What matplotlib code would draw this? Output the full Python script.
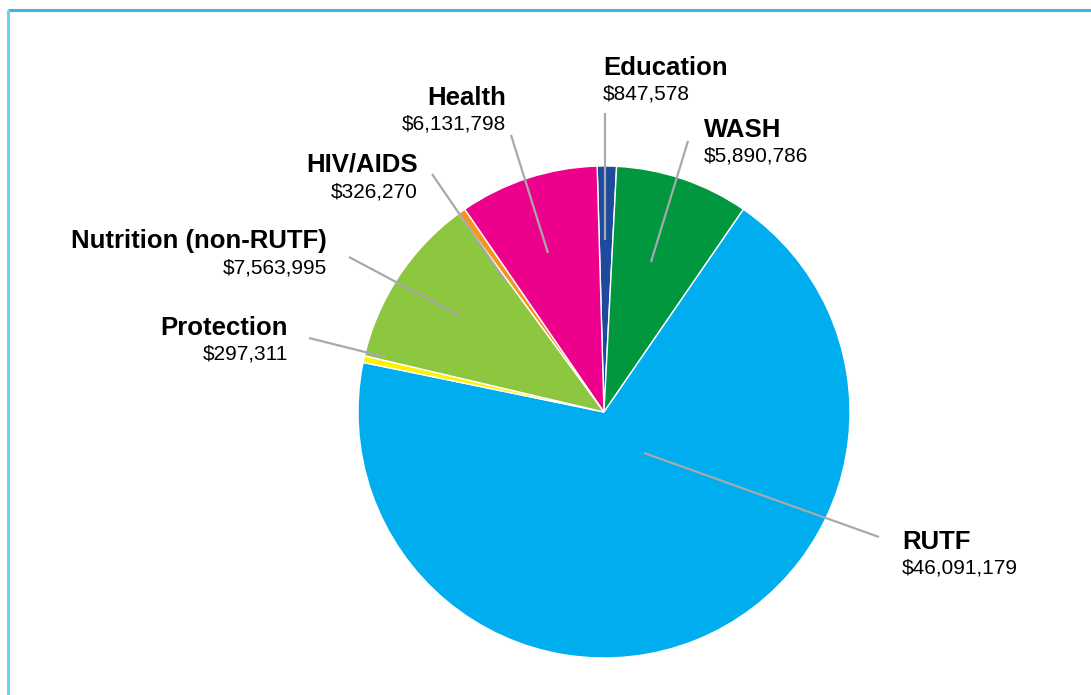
import matplotlib.pyplot as plt

plt.rcParams['font.family'] = ['Liberation Sans', 'DejaVu Sans']

# --- data (clockwise from top)
categories = ['Education', 'WASH', 'RUTF', 'Protection',
              'Nutrition (non-RUTF)', 'HIV/AIDS', 'Health']
amounts = [847578, 5890786, 46091179, 297311, 7563995, 326270, 6131798]
colors = ['#1e4a9e', '#00973f', '#00aeef', '#fff200',
          '#8dc63f', '#f7941d', '#ec008c']

# --- layout (pixel coords, y measured from the top of the image)
W, H = 1091, 695
center = (604, 412)
radius = 246
# label anchor x, label baseline y, alignment
label_pos = {
    'Education': (603, 75, 'left'),
    'WASH': (704, 137, 'left'),
    'RUTF': (902, 549, 'left'),
    'Protection': (288, 335, 'right'),
    'Nutrition (non-RUTF)': (327, 248, 'right'),
    'HIV/AIDS': (418, 172, 'right'),
    'Health': (506, 105, 'right'),
}
# leader lines: (outer end, inner end)
leaders = {
    'Education': ((605, 113), (605, 240)),
    'WASH': ((688, 141), (651, 262)),
    'RUTF': ((879, 537), (644, 453)),
    'Protection': ((309, 338), (385, 357)),
    'Nutrition (non-RUTF)': ((349, 257), (460, 316)),
    'HIV/AIDS': ((432, 174), (506, 282)),
    'Health': ((511, 135), (548, 253)),
}

fig = plt.figure(figsize=(W / 100, H / 100), dpi=100)
ax = fig.add_axes([0, 0, 1, 1])

ax.pie(amounts, colors=colors, startangle=91.6, counterclock=False,
       center=(center[0], H - center[1]), radius=radius,
       wedgeprops=dict(edgecolor='white', linewidth=1.0))
ax.set_xlim(0, W)
ax.set_ylim(0, H)
ax.set_aspect('auto')
ax.axis('off')

#--frame (only top and left edge visible)
ax.plot([8, W], [H - 9.5, H - 9.5], color='#3fb4e8', lw=2.2, solid_capstyle='butt')
ax.plot([8, 8], [0, H - 9.5], color='#6dd3f6', lw=2.2, solid_capstyle='butt')

for name, amt in zip(categories, amounts):
    (x0, y0), (x1, y1) = leaders[name]
    ax.plot([x0, x1], [H - y0, H - y1], color='#a7a9ac', lw=1.6,
            solid_capstyle='butt', zorder=5)
    lx, ly, ha = label_pos[name]
    ax.text(lx, H - ly, name, ha=ha, va='baseline', fontsize=18.5,
            fontweight='bold', color='black')
    ax.text(lx, H - ly - 25, f'${amt:,}', ha=ha, va='baseline',
            fontsize=15, color='black')

fig.savefig('out.png', dpi=100)
